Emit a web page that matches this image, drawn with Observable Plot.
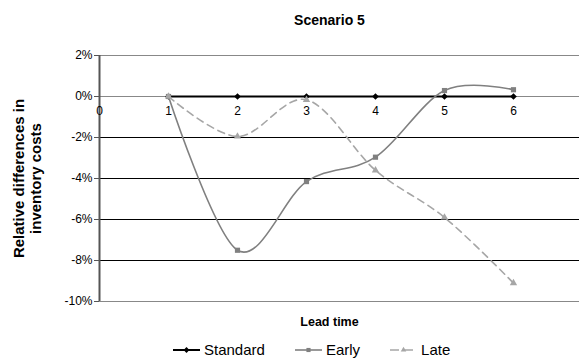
<!DOCTYPE html>
<html>
<head>
<meta charset="utf-8">
<script src="https://cdn.jsdelivr.net/npm/d3@7"></script>
<script src="https://cdn.jsdelivr.net/npm/@observablehq/plot@0.6"></script>
<style>
  html, body { margin: 0; padding: 0; background: #fff; }
  body { width: 579px; height: 364px; position: relative; overflow: hidden; font-family: "Liberation Sans", Arial, sans-serif; }
  #legend { position: absolute; left: 173px; top: 341px; display: flex; font-size: 15px; line-height: 18px; color: #000; }
  .item { display: flex; align-items: center; margin-right: 30px; }
  .item svg { margin-right: 4px; }
</style>
</head>
<body>
<div id="chart"></div>
<div id="legend"></div>
<script>
// Lead time steps and relative cost differences (fractions)
const leadTimes = [1, 2, 3, 4, 5, 6];
const standard = [0, 0, 0, 0, 0, 0];
const early = [0, -0.075, -0.0415, -0.0296, 0.0029, 0.0033];
const late = [0, -0.0195, -0.0016, -0.036, -0.059, -0.091];
const xTicks = [0, 1, 2, 3, 4, 5, 6];
const yTicks = [0.02, 0, -0.02, -0.04, -0.06, -0.08, -0.10];

const seriesDefs = [
  {name: "Standard", values: standard, stroke: "#000", width: 2, dash: null, symbol: "diamond2", r: 3},
  {name: "Early", values: early, stroke: "#808080", width: 1.6, dash: null, symbol: "square2", r: 3.3},
  {name: "Late", values: late, stroke: "#a6a6a6", width: 1.6, dash: "7,5", symbol: "triangle2", r: 3.5}
];

const rows = s => leadTimes.map((t, i) => ({t, v: s.values[i]}));
const pct = d => `${Math.round(d * 100)}%`;

const marks = [
  // horizontal gridlines; top, bottom and the zero axis in grey
  Plot.ruleY(yTicks, {stroke: d => (d === 0.02 || d === -0.10 || d === 0) ? "#888" : "#000", strokeWidth: 1}),
  // vertical value axis line
  Plot.ruleX([0], {y1: -0.10, y2: 0.02, stroke: "#555", strokeWidth: 2}),
  Plot.axisY(yTicks, {tickFormat: pct, tickSize: 5, tickPadding: 2, fontSize: 12, label: null, stroke: "#555"}),
  // category labels sit just under the zero line
  Plot.text(xTicks, {x: d => d, y: 0, dy: 15, text: d => String(d), fontSize: 12, fill: "#000"})
];

for (const s of seriesDefs) {
  marks.push(Plot.line(rows(s), {
    x: "t", y: "v", stroke: s.stroke, strokeWidth: s.width,
    strokeDasharray: s.dash, curve: "cardinal", tension: 0
  }));
  marks.push(Plot.dot(rows(s), {x: "t", y: "v", symbol: s.symbol, r: s.r, fill: s.stroke, stroke: "none"}));
}

marks.push(
  Plot.text(["Scenario 5"], {frameAnchor: "top", dx: -10, dy: -40, text: d => d, fontWeight: "bold", fontSize: 14, fill: "#000"}),
  Plot.text(["Lead time"], {frameAnchor: "bottom", dx: -10, dy: 24, text: d => d, fontWeight: "bold", fontSize: 12.5, fill: "#000"}),
  Plot.text(["Relative differences in\ninventory costs"], {
    frameAnchor: "left", textAnchor: "middle", dx: -72, rotate: -90, text: d => d, fontWeight: "bold",
    fontSize: 15, lineHeight: 1.13, fill: "#000"
  })
);

const chart = Plot.plot({
  width: 579,
  height: 364,
  marginTop: 55,
  marginBottom: 63,
  marginLeft: 99,
  marginRight: 0,
  style: {fontFamily: "'Liberation Sans', Arial, sans-serif", background: "#fff", color: "#000"},
  x: {domain: [0, 6.957], axis: null},
  y: {domain: [-0.10, 0.02], axis: null},
  marks
});
document.getElementById("chart").appendChild(chart);

// Legend built from the same series definitions
const legend = d3.select("#legend");
for (const s of seriesDefs) {
  const item = legend.append("div").attr("class", "item");
  const svg = item.append("svg").attr("width", 27).attr("height", 10);
  svg.append("line").attr("x1", 0).attr("x2", 27).attr("y1", 5).attr("y2", 5)
    .attr("stroke", s.stroke).attr("stroke-width", s.width)
    .attr("stroke-dasharray", s.dash ? "9,5" : null);
  const sym = {diamond2: d3.symbolDiamond2, square2: d3.symbolSquare2, triangle2: d3.symbolTriangle2}[s.symbol];
  svg.append("path").attr("transform", "translate(13.5,5)")
    .attr("d", d3.symbol(sym, 22)()).attr("fill", s.stroke);
  item.append("span").text(s.name);
}
</script>
</body>
</html>
